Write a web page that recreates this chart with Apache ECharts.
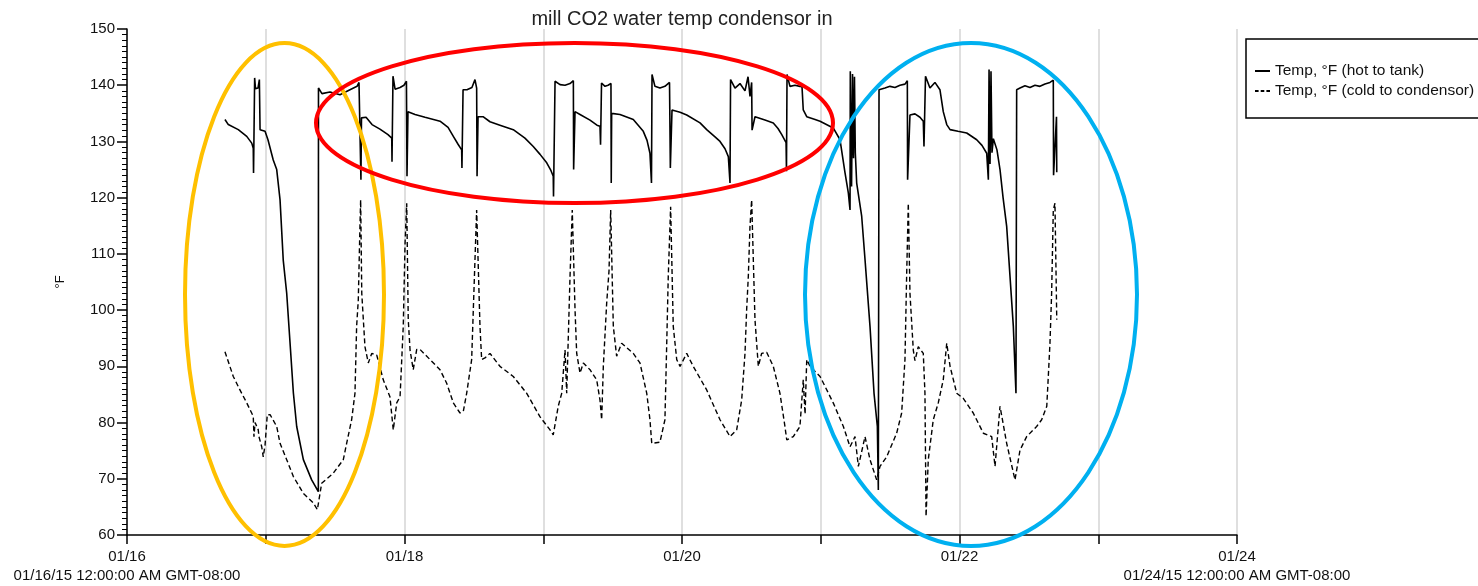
<!DOCTYPE html>
<html>
<head>
<meta charset="utf-8">
<script src="https://cdn.jsdelivr.net/npm/echarts@6/dist/echarts.min.js"></script>
<style>html,body{margin:0;padding:0;background:#fff;}#chart{width:1478px;height:586px;}</style>
</head>
<body>
<div id="chart"></div>
<script>
// Time in days since 01/16/15 00:00 (GMT-08:00); values in °F
const xLabels = ['01/16\n01/16/15 12:00:00 AM GMT-08:00', '', '01/18', '', '01/20', '', '01/22', '', '01/24\n01/24/15 12:00:00 AM GMT-08:00'];
const seriesNames = ['Temp, °F (hot to tank)', 'Temp, °F (cold to condensor)'];

const hotT = [0.706,0.730,0.802,0.863,0.899,0.910,0.912,0.920,0.926,0.944,0.954,0.959,0.995,1.016,1.054,1.079,1.103,1.126,1.151,1.175,1.199,1.223,1.271,1.331,1.379,
1.380,1.405,1.463,1.535,1.607,1.658,1.672,1.683,1.686,1.690,1.723,1.766,1.823,1.881,1.908,1.910,1.917,1.932,1.968,1.996,2.014,2.018,2.025,2.076,2.148,2.256,2.314,2.352,2.386,2.412,
2.414,2.422,2.450,2.486,2.508,2.520,2.523,2.530,2.566,2.616,2.688,2.784,2.868,2.928,2.977,3.025,3.056,3.072,3.074,3.085,3.121,3.157,3.193,3.217,3.219,3.229,3.265,3.337,3.387,3.409,
3.413,3.420,3.445,3.467,3.488,3.490,3.493,3.553,3.649,3.721,3.748,3.769,3.780,3.784,3.805,3.841,3.877,3.910,3.916,3.928,3.986,4.034,4.130,4.178,4.238,4.274,4.310,4.334,4.346,
4.350,4.382,4.418,4.454,4.476,4.490,4.502,4.505,4.526,4.598,4.658,4.692,4.719,4.750,4.753,4.757,4.778,4.814,4.850,4.865,4.874,4.899,4.959,4.995,5.090,5.139,5.175,5.199,5.211,
5.213,5.222,5.229,5.236,5.243,5.249,5.259,5.295,5.319,5.355,5.384,5.408,5.415,5.420,5.463,5.499,5.535,5.571,5.607,5.624,5.626,5.643,5.679,5.715,5.739,5.744,5.755,5.787,5.823,5.859,
5.883,5.908,5.932,5.989,6.052,6.124,6.162,6.196,6.208,6.213,6.220,6.227,6.234,6.244,6.270,6.292,6.314,6.340,6.364,6.388,6.407,6.412,6.436,6.472,6.508,6.544,6.580,6.616,6.652,6.676,6.678,6.699,6.701];
const hotV = [133.9,133.0,132.1,130.9,129.7,128.8,124.4,141.3,139.4,139.5,141.0,132.1,131.8,130.3,126.7,125.0,119.6,108.9,103.0,94.2,85.3,79.3,73.4,69.8,67.7,
139.5,138.5,138.8,138.3,139.2,139.8,140.5,140.2,123.2,134.2,134.3,133.0,132.2,131.2,130.6,126.4,141.6,139.3,139.6,140.0,140.7,123.8,135.3,134.8,134.3,133.6,132.5,130.9,129.5,128.5,
125.3,139.2,139.2,139.6,141.0,139.5,123.8,134.4,134.4,133.5,132.9,132.1,130.6,129.1,127.7,126.2,124.8,123.8,120.2,140.7,140.1,140.0,140.3,140.8,125.0,135.3,134.8,133.8,132.9,132.7,
129.4,140.4,139.8,140.0,140.3,122.6,135.0,134.8,133.9,131.8,130.2,127.9,122.6,141.9,139.8,139.5,139.8,140.5,125.3,135.6,135.2,134.7,133.3,132.1,130.8,130.0,128.7,127.3,122.6,
141.0,139.5,140.3,139.0,141.5,138.0,140.5,132.0,134.4,133.8,133.3,132.3,131.2,129.8,124.7,141.9,139.8,140.0,139.8,139.7,135.6,134.4,133.9,133.6,132.4,130.3,124.4,120.8,117.8,
142.5,122.0,142.0,127.0,141.5,128.0,122.6,116.7,109.0,97.1,85.2,79.3,68.0,139.2,139.5,139.8,139.6,140.0,140.2,140.8,123.2,134.7,134.9,134.3,133.6,129.1,141.6,139.5,140.5,139.2,
135.3,133.0,132.1,131.8,131.5,130.3,129.3,127.9,123.2,142.8,126.0,142.5,128.0,130.5,128.5,125.0,120.0,114.9,106.0,97.1,85.2,139.2,139.5,139.9,139.6,140.0,139.8,140.2,140.5,140.9,124.0,134.4,124.5];

const coldT = [0.706,0.766,0.814,0.863,0.910,0.915,0.923,0.946,0.951,0.971,0.982,0.995,1.011,1.031,1.052,1.079,1.103,1.151,1.199,1.271,1.343,1.372,1.403,1.487,1.559,1.583,1.619,1.643,
1.655,1.667,1.679,1.684,1.692,1.715,1.739,1.764,1.800,1.847,1.895,1.919,1.944,1.968,1.991,2.004,2.016,2.027,2.040,2.063,2.088,2.112,2.184,2.256,2.304,2.352,2.400,2.424,2.448,2.484,
2.496,2.508,2.520,2.544,2.556,2.580,2.616,2.688,2.784,2.881,2.977,3.049,3.072,3.108,3.133,3.157,3.169,3.193,3.209,3.229,3.241,3.265,3.289,3.337,3.385,3.409,3.421,3.433,3.457,3.474,
3.486,3.505,3.529,3.565,3.649,3.697,3.746,3.769,3.782,3.841,3.877,3.890,3.901,3.918,3.937,3.962,3.986,4.034,4.081,4.178,4.274,4.346,4.394,4.430,4.454,4.466,4.478,4.490,4.502,4.526,
4.550,4.574,4.610,4.658,4.706,4.742,4.755,4.802,4.850,4.874,4.887,4.899,4.923,4.995,5.090,5.163,5.211,5.247,5.271,5.319,5.355,5.403,5.427,5.475,5.547,5.583,5.607,5.619,5.631,5.643,
5.667,5.679,5.703,5.739,5.751,5.759,5.775,5.811,5.847,5.883,5.908,5.932,5.980,6.027,6.099,6.172,6.232,6.256,6.292,6.340,6.400,6.436,6.484,6.556,6.592,6.629,6.640,6.652,6.664,6.676,6.688,6.701];
const coldV = [92.6,88.2,85.8,83.5,81.1,77.5,80.0,78.7,77.5,75.7,73.9,76.0,81.4,81.4,80.5,79.3,76.3,73.4,70.4,67.4,65.7,64.5,69.2,71.0,73.4,76.3,80.5,85.2,
97.1,101.8,114.9,119.6,103.0,93.5,90.6,92.3,92.0,87.6,84.6,78.7,83.5,84.6,97.1,111.9,119.0,98.3,92.9,89.4,93.0,93.0,91.2,89.4,87.0,83.5,81.7,82.0,85.2,91.2,
100.1,109.0,117.8,97.1,91.2,91.5,92.3,90.0,88.2,85.2,81.0,78.7,77.8,82.9,85.2,92.9,85.2,106.0,117.8,100.1,92.3,88.8,90.6,89.4,87.6,84.0,80.5,90.0,101.2,107.0,
117.8,97.1,91.8,94.1,92.3,90.6,85.2,80.5,76.3,76.5,80.5,94.1,106.0,118.4,97.1,91.2,90.0,92.3,90.0,85.8,80.5,77.5,78.7,84.0,92.3,100.1,106.0,114.9,119.6,98.3,
90.0,92.3,92.5,90.0,85.2,79.3,76.9,77.5,79.3,87.6,81.5,91.2,90.0,88.2,83.5,79.3,75.7,77.5,72.2,77.5,73.4,69.8,72.2,73.9,78.1,81.7,91.2,106.0,119.0,103.0,
92.9,91.0,93.5,92.3,85.2,63.3,73.4,80.5,83.5,87.6,94.1,90.0,85.2,84.3,81.7,78.1,77.5,72.2,82.9,76.3,69.8,75.1,77.5,79.3,80.5,82.9,88.2,94.1,103.0,117.8,119.0,98.3];

const hotData = hotT.map((t, i) => [t, hotV[i]]);
const coldData = coldT.map((t, i) => [t, coldV[i]]);

const chart = echarts.init(document.getElementById('chart'), null, {renderer: 'canvas'});
const FONT = 'Liberation Sans, Arial, sans-serif';
chart.setOption({
  animation: false,
  backgroundColor: '#fff',
  title: {
    text: 'mill CO2 water temp condensor in',
    left: 682, top: 9, padding: 0, textAlign: 'center',
    textStyle: {fontFamily: FONT, fontSize: 20, fontWeight: 'normal', color: '#222'}
  },
  legend: {
    orient: 'vertical', left: 1246, top: 39,
    padding: [24, 40, 19, 9], itemGap: 4, itemWidth: 15, itemHeight: 2,
    borderColor: '#000', borderWidth: 1.5,
    textStyle: {fontFamily: FONT, fontSize: 15.5, color: '#111'},
    data: [
      {name: seriesNames[0], icon: 'path://M0,0h15v2h-15z'},
      {name: seriesNames[1], icon: 'path://M0,0h3.6v2h-3.6zM5.7,0h3.6v2h-3.6zM11.4,0h3.6v2h-3.6z'}
    ]
  },
  grid: {left: 127, right: 241, top: 29, bottom: 51, containLabel: false},
  xAxis: {
    type: 'value', min: 0, max: 8, interval: 1,
    axisLine: {show: true, lineStyle: {color: '#000', width: 1.5}},
    axisTick: {show: true, length: 9, lineStyle: {color: '#000', width: 1.5}},
    axisLabel: {
      margin: 12, color: '#111', fontFamily: FONT, fontSize: 15, lineHeight: 19,
      formatter: v => xLabels[Math.round(v)] || ''
    },
    splitLine: {show: true, lineStyle: {color: '#d4d4d4', width: 1.5}}
  },
  yAxis: {
    type: 'value', min: 60, max: 150, interval: 10,
    name: '°F', nameLocation: 'middle', nameGap: 60, nameRotate: 90,
    nameTextStyle: {fontFamily: FONT, fontSize: 13, color: '#111'},
    axisLine: {show: true, lineStyle: {color: '#000', width: 1.5}},
    axisTick: {show: true, length: 10, lineStyle: {color: '#000', width: 1.5}},
    minorTick: {show: true, splitNumber: 10, length: 5, lineStyle: {color: '#000', width: 1}},
    axisLabel: {margin: 12, color: '#111', fontFamily: FONT, fontSize: 15},
    splitLine: {show: false}
  },
  series: [
    {name: seriesNames[0], type: 'line', data: hotData, symbol: 'none', showSymbol: false,
     lineStyle: {color: '#000', width: 1.6}, itemStyle: {color: '#000'}, z: 3},
    {name: seriesNames[1], type: 'line', data: coldData, symbol: 'none', showSymbol: false,
     lineStyle: {color: '#000', width: 1.4, type: [5, 3]}, itemStyle: {color: '#000'}, z: 3}
  ],
  graphic: [
    {type: 'ellipse', z: 100, shape: {cx: 284.5, cy: 294.5, rx: 99.5, ry: 251.5},
     style: {fill: 'none', stroke: '#FFC000', lineWidth: 4}},
    {type: 'ellipse', z: 100, shape: {cx: 574.5, cy: 123, rx: 258.5, ry: 80},
     style: {fill: 'none', stroke: '#FF0000', lineWidth: 4}},
    {type: 'ellipse', z: 100, shape: {cx: 971, cy: 294.5, rx: 166, ry: 251.5},
     style: {fill: 'none', stroke: '#00B0F0', lineWidth: 4}}
  ]
});
</script>
</body>
</html>
